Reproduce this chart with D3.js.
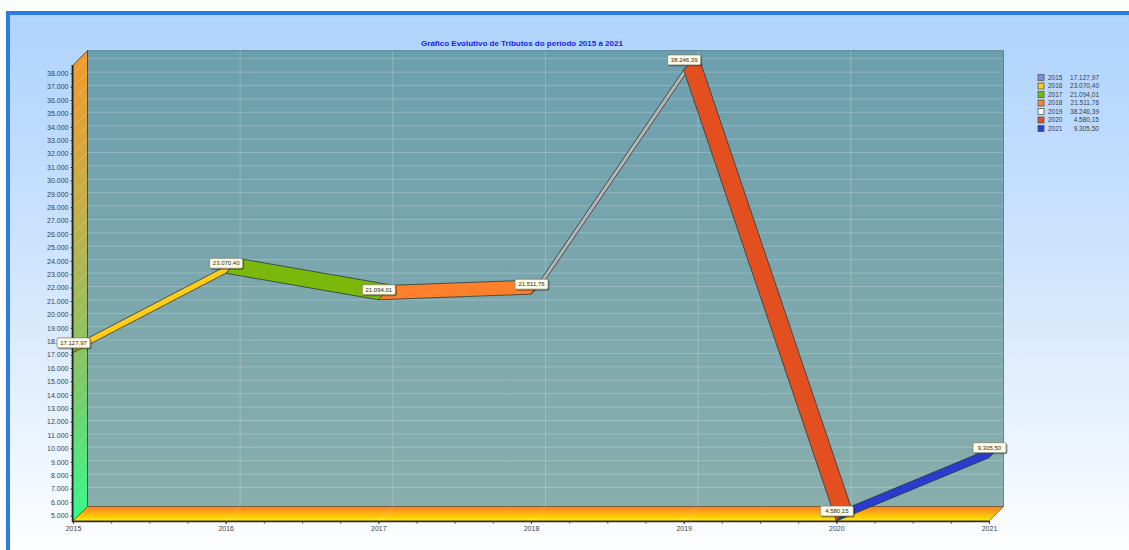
<!DOCTYPE html>
<html>
<head>
<meta charset="utf-8">
<script src="https://cdn.jsdelivr.net/npm/d3@7/dist/d3.min.js"></script>
<style>
html,body{margin:0;padding:0;background:#fff;overflow:hidden}
svg{display:block}
text{font-family:"Liberation Sans",Arial,sans-serif}
</style>
</head>
<body>
<svg id="chart" width="1129" height="550"></svg>
<script>
const chartTitle = "Gráfico Evolutivo de Tributos do período 2015 à 2021";
const years = [2015, 2016, 2017, 2018, 2019, 2020, 2021];
const amounts = [17127.97, 23070.40, 21094.01, 21511.76, 38246.39, 4580.15, 9305.50];
const swatchColors = ["#7b8fe3", "#ffcc1a", "#7cb80c", "#ff802b", "#ffffff", "#e44f1f", "#2a3ccf"];
const ribbonColors = [null, "#ffcc1a", "#7cb80c", "#ff802b", "#b4b4b4", "#e44f1f", "#2a3ccf"];
const valueTicks = d3.range(5000, 38001, 1000);

const svg = d3.select("#chart");
const defs = svg.append("defs");
const width = 1129, height = 550;
const depth = 14.5;

const x = d3.scaleLinear().domain([2015, 2021]).range([73, 989]);
const y = d3.scaleLinear().domain([5000, 38000]).range([515.4, 73.2]);
const yBase = 4580, yTop = 38600;

const br = d3.formatLocale({decimal: ",", thousands: ".", grouping: [3], currency: ["R$", ""]});
const fmtTick = br.format(",d");
const fmtValue = br.format(",.2f");

function gradient(id, x2, y2, stops) {
  const g = defs.append("linearGradient").attr("id", id)
    .attr("x1", 0).attr("y1", 0).attr("x2", x2).attr("y2", y2);
  stops.forEach(([o, c]) => g.append("stop").attr("offset", o).attr("stop-color", c));
}
gradient("panelFill", 0, 1, [[0, "#aed3fd"], [0.45, "#cfe4fd"], [1, "#ffffff"]]);
gradient("backFill", 0, 1, [[0, "#6c9fae"], [1, "#89aeac"]]);
gradient("wallFill", 0, 1, [[0, "#f39a2c"], [0.35, "#c2b04a"], [0.7, "#7fc867"], [1, "#35fb8c"]]);
gradient("floorFill", 0, 1, [[0, "#fb7d22"], [1, "#ffee00"]]);
const shadow = defs.append("filter").attr("id", "tagShadow")
  .attr("x", "-20%").attr("y", "-30%").attr("width", "150%").attr("height", "180%");
shadow.append("feDropShadow").attr("dx", 1).attr("dy", 1).attr("stdDeviation", 0.6)
  .attr("flood-color", "#000").attr("flood-opacity", 0.5);

// Panel and its blue frame
svg.append("rect").attr("x", 8).attr("y", 13).attr("width", width).attr("height", height)
  .attr("fill", "url(#panelFill)").attr("stroke", "#2a7de1").attr("stroke-width", 4);

// 3D box: back wall, left wall, floor
const x0 = x.range()[0], x1 = x.range()[1];
const yb = y(yBase), yt = y(yTop);
const poly = pts => d3.line()(pts) + "Z";

svg.append("rect").attr("x", x0 + depth).attr("y", yt - depth)
  .attr("width", x1 - x0).attr("height", yb - yt)
  .attr("fill", "url(#backFill)").attr("stroke", "#5d8590").attr("stroke-width", 1);

const grid = svg.append("g").attr("stroke", "#ffffff").attr("stroke-opacity", 0.22).attr("fill", "none");
grid.selectAll("line.h").data(valueTicks.slice(1)).join("line").attr("class", "h")
  .attr("x1", x0 + depth).attr("x2", x1 + depth)
  .attr("y1", d => y(d) - depth).attr("y2", d => y(d) - depth);
grid.selectAll("line.v").data(years.slice(1, -1)).join("line").attr("class", "v")
  .attr("x1", d => x(d) + depth).attr("x2", d => x(d) + depth)
  .attr("y1", yt - depth).attr("y2", yb - depth);

svg.append("path").attr("fill", "url(#wallFill)").attr("stroke", "#3a3a2a").attr("stroke-width", 0.8)
  .attr("d", poly([[x0, yt], [x0 + depth, yt - depth], [x0 + depth, yb - depth], [x0, yb]]));
svg.append("path").attr("fill", "url(#floorFill)").attr("stroke", "#6d5a3a").attr("stroke-width", 0.8)
  .attr("d", poly([[x0, yb], [x0 + depth, yb - depth], [x1 + depth, yb - depth], [x1, yb]]));

const sideGrid = svg.append("g").attr("stroke", "#ffffff").attr("stroke-opacity", 0.22);
sideGrid.selectAll("line.w").data(valueTicks.slice(1)).join("line").attr("class", "w")
  .attr("x1", x0).attr("x2", x0 + depth).attr("y1", d => y(d)).attr("y2", d => y(d) - depth);
sideGrid.selectAll("line.f").data(years.slice(1, -1)).join("line").attr("class", "f")
  .attr("x1", d => x(d)).attr("x2", d => x(d) + depth).attr("y1", yb).attr("y2", yb - depth);

// Value axis with minor marks
const minorValues = d3.range(5000, 38601, 200);
svg.append("g").attr("transform", `translate(${x0},0)`)
  .call(d3.axisLeft(y).tickValues(minorValues).tickSize(1.5).tickFormat(""))
  .call(g => g.select(".domain").remove())
  .call(g => g.selectAll("line").attr("stroke", "#555"));
svg.append("g").attr("transform", `translate(${x0},0)`)
  .call(d3.axisLeft(y).tickValues(valueTicks).tickSize(2.5).tickPadding(2).tickFormat(fmtTick))
  .call(g => g.select(".domain").remove())
  .call(g => g.selectAll("line").attr("stroke", "#333"))
  .call(g => g.selectAll("text").attr("font-size", 7).attr("font-family", null).attr("fill", "#3a3e4c"));
svg.append("line").attr("x1", x0 - 0.5).attr("x2", x0 - 0.5).attr("y1", yt).attr("y2", yb + 1)
  .attr("stroke", "#222").attr("stroke-width", 1.5);

// Year axis with quarter marks
const minorYears = d3.range(2015, 2021.01, 0.25);
const axisY = yb;
svg.append("g").attr("transform", `translate(0,${axisY})`)
  .call(d3.axisBottom(x).tickValues(minorYears).tickSize(2.5).tickFormat(""))
  .call(g => g.select(".domain").remove())
  .call(g => g.selectAll("line").attr("stroke", "#444"));
svg.append("g").attr("transform", `translate(0,${axisY})`)
  .call(d3.axisBottom(x).tickValues(years).tickSize(3).tickPadding(2).tickFormat(d3.format("d")))
  .call(g => g.select(".domain").remove())
  .call(g => g.selectAll("line").attr("stroke", "#444"))
  .call(g => g.selectAll("text").attr("font-size", 7).attr("font-family", null).attr("fill", "#3a3e4c"));
svg.append("line").attr("x1", x0 - 1).attr("x2", x1).attr("y1", yb + 0.5).attr("y2", yb + 0.5)
  .attr("stroke", "#2a2a1a").attr("stroke-width", 1.5);

// Ribbon segments, each coloured after the year it ends on
const points = years.map((yr, i) => ({yr, v: amounts[i], px: x(yr), py: y(amounts[i])}));
svg.append("g").selectAll("path").data(points.slice(1)).join("path")
  .attr("fill", (d, i) => ribbonColors[i + 1])
  .attr("stroke", "#2d3a3a").attr("stroke-width", 0.8).attr("stroke-linejoin", "round")
  .attr("d", (d, i) => {
    const a = points[i];
    return poly([[a.px, a.py], [d.px, d.py], [d.px + depth, d.py - depth], [a.px + depth, a.py - depth]]);
  });

// Value tags above each point
const tagW = 33, tagH = 10;
const tags = svg.append("g").selectAll("g").data(points).join("g")
  .attr("transform", d => `translate(${d.px + 0.5},${d.py - 10})`);
tags.append("rect").attr("x", -tagW / 2).attr("y", -tagH / 2).attr("width", tagW).attr("height", tagH)
  .attr("rx", 1.5).attr("fill", "#fffce6").attr("stroke", "#77776a").attr("stroke-width", 0.7)
  .attr("filter", "url(#tagShadow)");
tags.append("text").attr("text-anchor", "middle").attr("dy", "0.35em")
  .attr("font-size", 6).attr("fill", "#2a2a2a").text(d => fmtValue(d.v));

// Title
svg.append("text").attr("x", 522).attr("y", 45.5).attr("text-anchor", "middle")
  .attr("font-size", 8).attr("font-weight", "bold").attr("fill", "#2020ee").text(chartTitle);

// Legend
const legendX = 1038, legendY = 74.5, legendStep = 8.5;
const legend = svg.append("g").selectAll("g").data(points).join("g")
  .attr("transform", (d, i) => `translate(${legendX},${legendY + i * legendStep})`);
legend.append("rect").attr("width", 6).attr("height", 6)
  .attr("fill", (d, i) => swatchColors[i]).attr("stroke", "#555").attr("stroke-width", 0.8);
legend.append("text").attr("x", 10).attr("y", 3).attr("dy", "0.35em")
  .attr("font-size", 6.5).attr("fill", "#3a3e4c").text(d => d.yr);
legend.append("text").attr("x", 61).attr("y", 3).attr("dy", "0.35em").attr("text-anchor", "end")
  .attr("font-size", 6.5).attr("fill", "#3a3e4c").text(d => fmtValue(d.v));
</script>
</body>
</html>
